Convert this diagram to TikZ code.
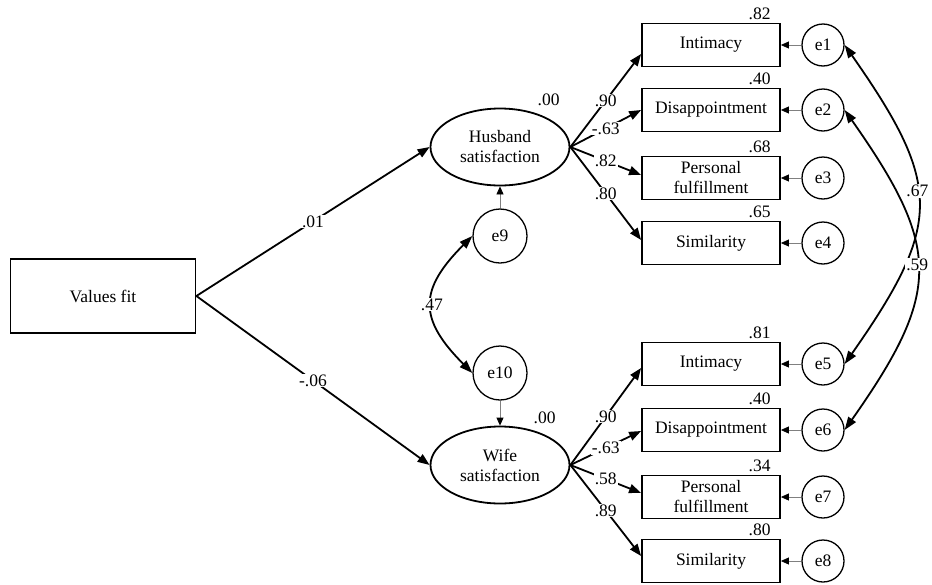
\documentclass[tikz,border=0pt]{standalone}
\usepackage{fontspec}
\setmainfont{Liberation Serif}
\usetikzlibrary{arrows.meta,shapes.geometric}

\begin{document}
\begin{tikzpicture}[x=1pt, y=-1pt, line width=1.8pt,
  font=\fontsize{17.5}{20}\selectfont,
  obs/.style={draw, rectangle, minimum width=138pt, minimum height=43pt, inner sep=1pt, align=center},
  lat/.style={draw, ellipse, minimum width=139pt, minimum height=77pt, inner sep=0pt, align=center},
  err/.style={draw, circle, line width=1.3pt, minimum size=42pt, inner sep=0pt},
  dist/.style={err, minimum size=54pt},
  path/.style={-{Triangle[length=12pt,width=9pt]}},
  erra/.style={draw=gray, line width=0.8pt, -{Triangle[length=8pt,width=7pt,color=black]}},
  cov/.style={{Triangle[length=13pt,width=9pt]}-{Triangle[length=13pt,width=9pt]}},
  coef/.style={fill=white, inner sep=1pt},
  r2/.style={anchor=south east, inner sep=1.5pt}]
  \useasboundingbox (0,0) rectangle (932,584);
  % exogenous variable
  \node[obs, minimum width=185pt, minimum height=74pt] (vfit) at (103,296) {Values fit};
  % latent satisfaction + disturbances
  \node[lat] (hsat) at (500,147) {Husband\\satisfaction};
  \node[lat] (wsat) at (500,465) {Wife\\satisfaction};
  \node[r2] at ([xshift=62pt,yshift=-1pt]hsat.north) {.00};
  \node[r2] at ([xshift=58pt,yshift=-1pt]wsat.north) {.00};
  \node[dist] (e9) at (500,236) {e9};
  \node[dist] (e10) at (500,373) {e10};
  \draw[erra] (e9) -- (hsat);
  \draw[erra] (e10) -- (wsat);
  \draw[path] (vfit.east) -- node[coef]{.01} (hsat.west);
  \draw[path] (vfit.east) -- node[coef]{-.06} (wsat.west);
  \draw[cov] (e9.west) .. controls +(-54,54) and +(-54,-54) .. node[coef]{.47} (e10.west);
  % indicators + errors
  \foreach \nm/\y/\txt/\rs/\en in {hi/45/Intimacy/.82/e1, hd/110/Disappointment/.40/e2,
      hp/178/{Personal\\fulfillment}/.68/e3, hs/243/Similarity/.65/e4,
      wi/364/Intimacy/.81/e5, wd/430/Disappointment/.40/e6,
      wp/497/{Personal\\fulfillment}/.34/e7, ws/561/Similarity/.80/e8} {
    \node[obs] (\nm) at (711,\y) {\txt};
    \node[r2] at ([xshift=-8pt]\nm.north east) {\rs};
    \node[err] (\en) at (823,\y) {\en};
    \draw[erra] (\en) -- (\nm);
  }
  % loadings
  \foreach \lv/\ind/\val/\dy in {hsat/hi/.90/-9, hsat/hd/-.63/0, hsat/hp/.82/3, hsat/hs/.80/3,
      wsat/wi/.90/-4, wsat/wd/-.63/-1, wsat/wp/.58/4, wsat/ws/.89/5}
    \draw[path] (\lv.east) -- node[coef]{\val} ([yshift=\dy pt]\ind.west);
  % correlated errors
  \draw[cov] (e1.east) .. controls +(98,140) and +(98,-140) .. node[coef,pos=.45]{.67} (e5.east);
  \draw[cov] (e2.east) .. controls +(97,138) and +(97,-138) .. node[coef,pos=.48]{.59} (e6.east);
\end{tikzpicture}
\end{document}
